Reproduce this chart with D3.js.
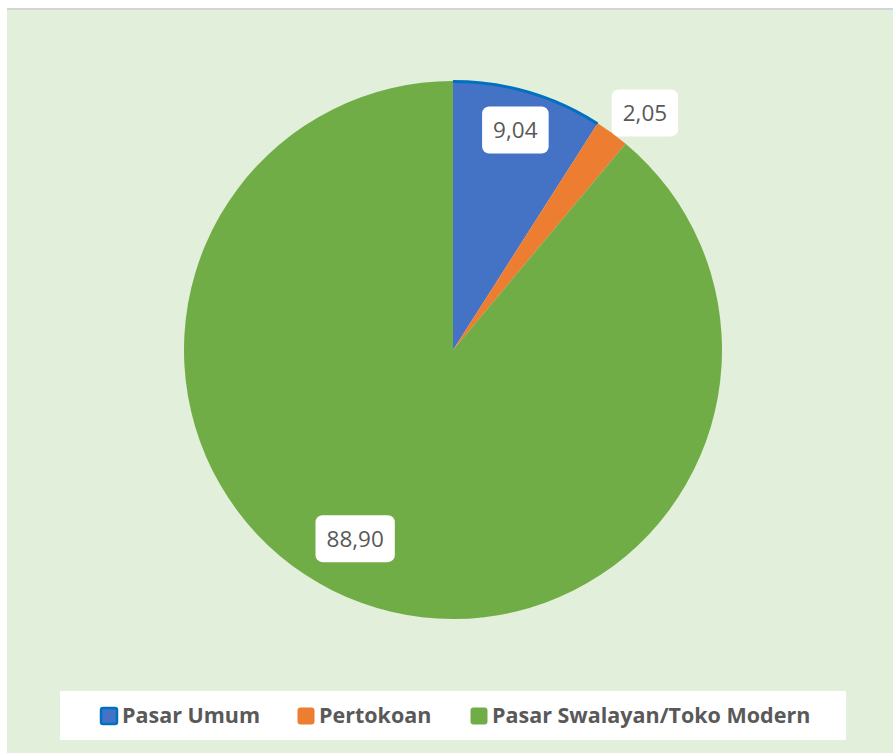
<!DOCTYPE html>
<html>
<head>
<meta charset="utf-8">
<script src="https://cdn.jsdelivr.net/npm/d3@7"></script>
<style>
	body{margin:0;background:#fff;}
	svg{display:block;}
</style>
</head>
<body>
<svg id="chart"></svg>
<script>
let _width = 893
let _height = 753

// data
let categories = ['Pasar Umum', 'Pertokoan', 'Pasar Swalayan/Toko Modern']
let values = [9.04, 2.05, 88.90]
let labels = ['9,04', '2,05', '88,90']
let cols = ['#4472c4', '#ed7d31', '#70ad47']
// label placement: share of radius and angle nudge (rad)
let label_r = [0.85, 1.134, 0.79]
let label_da = [-0.008, 0.048, 0.13]

const cx = 453
const cy = 350
const radius = 269

const svg = d3.select('#chart')
	.attr('width', _width)
	.attr('height', _height)
	.attr('font-family', 'Open Sans, Noto Sans, sans-serif')

// panel
svg.append('rect')
	.attr('x', 7).attr('y', 8)
	.attr('width', _width - 7).attr('height', 2)
	.attr('fill', '#d4d4d4')
svg.append('rect')
	.attr('x', 7).attr('y', 10)
	.attr('width', _width - 7).attr('height', _height - 10)
	.attr('fill', '#e2efda')

const pie = d3.pie()
	.sort(null)
	.value(d => d[1])

const data_ready = pie(categories.map((c, i) => [c, values[i], i]))

const arc = d3.arc()
	.innerRadius(0)
	.outerRadius(radius)

const chart = svg.append('g')
	.attr('transform', `translate(${cx},${cy})`)

chart.selectAll('.seg')
	.data(data_ready)
	.enter()
	.append('path')
	.classed('seg', true)
	.attr('d', arc)
	.attr('fill', d => cols[d.data[2]])

// dark blue rim on the first slice
const rim = d3.arc()
	.innerRadius(radius - 2)
	.outerRadius(radius + 1)
chart.append('path')
	.attr('d', rim(data_ready[0]))
	.attr('fill', '#0070c0')

// data labels
const labG = chart.selectAll('.lab')
	.data(data_ready)
	.enter()
	.append('g')
	.classed('lab', true)
	.attr('transform', d => {
		const i = d.data[2]
		const a = (d.startAngle + d.endAngle) / 2 + label_da[i]
		const r = radius * label_r[i]
		return `translate(${r * Math.sin(a)},${-r * Math.cos(a)})`
	})

labG.append('text')
	.text(d => labels[d.data[2]])
	.attr('text-anchor', 'middle')
	.attr('y', '0.36em')
	.attr('font-size', 22.5)
	.attr('fill', '#595959')
	.each(function(){
		const b = this.getBBox()
		d3.select(this.parentNode).insert('rect', 'text')
			.attr('x', b.x - 11)
			.attr('y', -23.5)
			.attr('width', b.width + 22)
			.attr('height', 47)
			.attr('rx', 7)
			.attr('fill', '#fff')
	})

/*legend*/
svg.append('rect')
	.attr('x', 60).attr('y', 691)
	.attr('width', 786).attr('height', 49)
	.attr('fill', '#fff')

const legend_x = [100, 297, 470]
const legendG = svg.selectAll('.legend')
	.data(data_ready)
	.enter()
	.append('g')
	.classed('legend', true)
	.attr('transform', (d, i) => `translate(${legend_x[i]},707)`)

legendG.append('rect')
	.attr('x', 1).attr('y', 1)
	.attr('width', 16).attr('height', 16)
	.attr('rx', 2)
	.attr('fill', d => cols[d.data[2]])
	.attr('stroke', (d, i) => i == 0 ? '#0070c0' : cols[i])
	.attr('stroke-width', (d, i) => i == 0 ? 2.5 : 1)

legendG.append('text')
	.text(d => d.data[0])
	.attr('x', 22)
	.attr('y', 16)
	.attr('font-size', 21.5)
	.attr('font-weight', 'bold')
	.attr('fill', '#595959')
</script>
</body>
</html>
